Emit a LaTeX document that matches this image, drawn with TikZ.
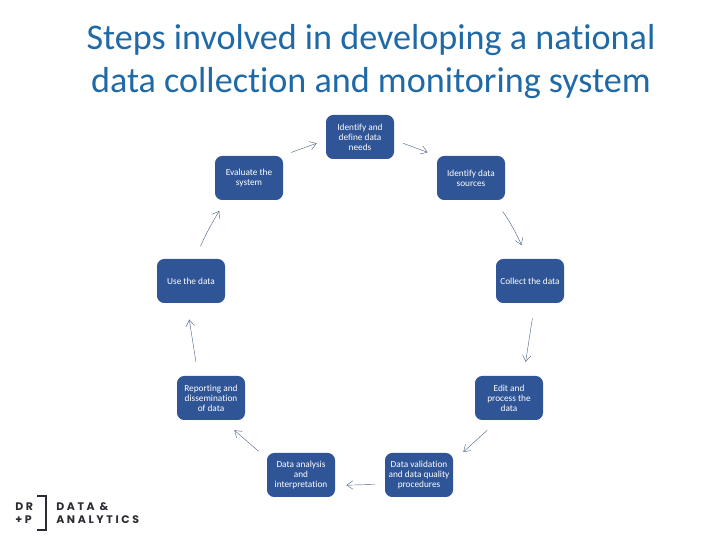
\documentclass[tikz,border=0pt]{standalone}
\usepackage{fontspec}
\setmainfont{Carlito}[Ligatures=NoCommon]
\newfontfamily\logofont[LetterSpace=24]{Poppins}
\usetikzlibrary{arrows.meta}
\definecolor{boxblue}{HTML}{2F5597}
\definecolor{flowgrey}{HTML}{4F6484}
\definecolor{titleblue}{HTML}{1F69A6}
\definecolor{logoink}{HTML}{2B2B33}
\tikzset{
  stepbox/.style={fill=boxblue,rounded corners=.18cm,minimum width=1.7cm,minimum height=1.1cm,inner sep=0pt,
    text=white,align=center,font=\fontsize{6.6}{7.1}\selectfont},
  flow/.style={-{Straight Barb[length=4.5pt,width=6pt]},line width=.3pt,flowgrey},
  logotext/.style={anchor=west,inner sep=0pt,text=logoink,align=left,font=\logofont\bfseries\fontsize{7.8}{9.2}\selectfont}
}

\begin{document}
\begin{tikzpicture}
  \useasboundingbox (0,0) rectangle (18,13.5);
  \node[text=titleblue,align=center,font=\fontsize{25.7}{30.6}\selectfont] (title) at (9.275,11.95)
    {Steps involved in developing a national\\data collection and monitoring system};

  \foreach \name/\x/\y/\lab in {
    needs/9/10.075/{Identify and\\define data\\needs},
    sources/11.775/9.05/{Identify data\\sources},
    collect/13.25/6.475/{Collect the data},
    edit/12.725/3.55/{Edit and\\process the\\data},
    validation/10.475/1.625/{Data validation\\and data quality\\procedures},
    analysis/7.525/1.625/{Data analysis\\and\\interpretation},
    reporting/5.275/3.55/{Reporting and\\dissemination\\of data},
    use/4.775/6.475/{Use the data},
    evaluate/6.225/9.05/{Evaluate the\\system}}{
    \node[stepbox] (\name) at (\x,\y) {\lab};
  }

  \draw[flow,shorten <=.24cm,shorten >=.24cm] (needs.-5) -- (sources.north west);
  \draw[flow,shorten <=.34cm,shorten >=.37cm] (sources.-43.4) to[bend left=6] (collect.97.8);
  \draw[flow,shorten <=.38cm,shorten >=.35cm] (collect.-78.7) -- (edit.57.9);
  \draw[flow,shorten <=.37cm,shorten >=.34cm] (edit.-116.8) -- (validation.22.4);
  \draw[flow,shorten <=.25cm,shorten >=.275cm] (validation.-165.6) -- (analysis.-17);
  \draw[flow,shorten <=.27cm,shorten >=.38cm] (analysis.154.8) -- (reporting.-62.2);
  \draw[flow,shorten <=.35cm,shorten >=.41cm] (reporting.120) -- (use.-101.8);
  \draw[flow,shorten <=.34cm,shorten >=.31cm] (use.80.2) to[bend left=4] (evaluate.-136.6);
  \draw[flow,shorten <=.24cm,shorten >=.24cm] (evaluate.34.4) -- (needs.-175);

  % logo
  \node[logotext] (logodr) at (.375,.825) {DR};
  \node[logotext] (logop) at (.375,.5) {+P};
  \draw[logoink,line width=1.7pt] (.925,1.1) -- (1.15,1.1) -- (1.15,.25) -- (.925,.25);
  \node[logotext] (logodata) at (1.4,.825) {DATA \&};
  \node[logotext] (logoana) at (1.4,.5) {ANALYTICS};
\end{tikzpicture}
\end{document}
